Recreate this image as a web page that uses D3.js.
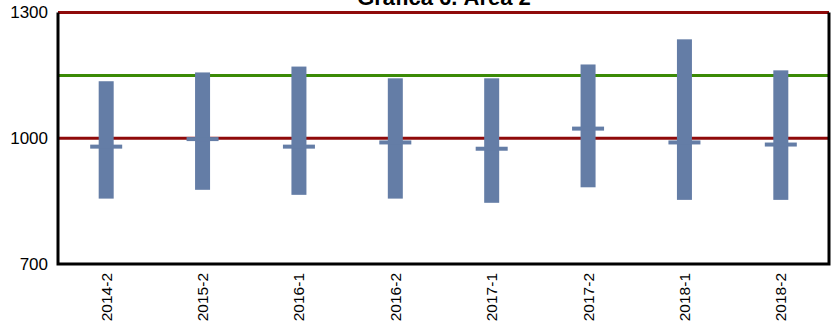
<!DOCTYPE html>
<meta charset="utf-8">
<head>
<title>Gráfica 6. Área 2</title>
<style>
body { margin: 0; background: #fff; }
text { font-family: Arial, "Liberation Sans", sans-serif; fill: #000; }
.bar { fill: #647da6; }
.mean { fill: #647da6; }
</style>
</head>
<body>
<script src="https://d3js.org/d3.v7.min.js"></script>
<script>

// periods, range low/high and mean per period
var periods = ["2014-2", "2015-2", "2016-1", "2016-2", "2017-1", "2017-2", "2018-1", "2018-2"];
var lows  = [856, 877, 865, 856, 846, 883, 853, 853];
var highs = [1136, 1157, 1171, 1143, 1143, 1176, 1236, 1162];
var means = [980, 998, 980, 990, 975, 1023, 990, 985];
var yTicks = [700, 1000, 1300];
var redLines = [1000, 1300];
var greenLine = 1150;

var width = 839,
    height = 329,
    margin = {top: 12.5, right: 10, bottom: 65, left: 58};

var svg = d3.select("body").append("svg")
    .attr("width", width)
    .attr("height", height);

var x = d3.scaleBand()
    .domain(periods)
    .range([margin.left, width - margin.right])
    .paddingInner(0)
    .paddingOuter(0);

var y = d3.scaleLinear()
    .domain([700, 1300])
    .range([height - margin.bottom, margin.top]);

// title (its top runs off the page like the original)
svg.append("text")
    .attr("x", 444)
    .attr("y", 5)
    .attr("text-anchor", "middle")
    .style("font-size", "22px")
    .style("font-weight", "bold")
    .text("Gráfica 6. Área 2");

// reference lines
svg.selectAll(".red")
    .data(redLines)
  .enter().append("line")
    .attr("class", "red")
    .attr("x1", margin.left)
    .attr("x2", width - margin.right)
    .attr("y1", function(d) { return y(d); })
    .attr("y2", function(d) { return y(d); })
    .attr("stroke", "#8f0a0a")
    .attr("stroke-width", 3);

svg.append("line")
    .attr("x1", margin.left)
    .attr("x2", width - margin.right)
    .attr("y1", y(greenLine))
    .attr("y2", y(greenLine))
    .attr("stroke", "#3b8a06")
    .attr("stroke-width", 3);

var bw = 15, mw = 32;

// range bars
svg.selectAll(".bar")
    .data(periods)
  .enter().append("rect")
    .attr("class", "bar")
    .attr("x", function(d) { return x(d) + x.bandwidth() / 2 - bw / 2; })
    .attr("y", function(d, i) { return y(highs[i]); })
    .attr("width", bw)
    .attr("height", function(d, i) { return y(lows[i]) - y(highs[i]); });

// mean markers
svg.selectAll(".mean")
    .data(periods)
  .enter().append("rect")
    .attr("class", "mean")
    .attr("x", function(d) { return x(d) + x.bandwidth() / 2 - mw / 2; })
    .attr("y", function(d, i) { return y(means[i]) - 2; })
    .attr("width", mw)
    .attr("height", 4);

// frame: left, bottom, right in black
var x0 = margin.left, x1 = width - margin.right;
svg.append("path")
    .attr("d", "M" + x0 + "," + y(1300) + "V" + y(700) + "H" + x1 + "V" + y(1300))
    .attr("fill", "none")
    .attr("stroke", "#000")
    .attr("stroke-width", 3);

// y axis labels
var yAxis = d3.axisLeft(y).tickValues(yTicks).tickFormat(d3.format("d")).tickSize(0).tickPadding(10);
var gy = svg.append("g")
    .attr("transform", "translate(" + x0 + ",0)")
    .call(yAxis);
gy.select(".domain").remove();
gy.selectAll("text")
    .style("font-family", "Arial, 'Liberation Sans', sans-serif")
    .style("font-size", "17px")
    .attr("fill", "#000");

// x axis labels
var xAxis = d3.axisBottom(x).tickSize(0).tickPadding(0);
var gx = svg.append("g")
    .attr("transform", "translate(0," + y(700) + ")")
    .call(xAxis);
gx.select(".domain").remove();
gx.selectAll("text")
    .style("font-family", "Arial, 'Liberation Sans', sans-serif")
    .style("font-size", "15.5px")
    .attr("fill", "#000")
    .attr("transform", "rotate(-90)")
    .attr("text-anchor", "end")
    .attr("x", -9)
    .attr("y", 0)
    .attr("dy", "0.35em");

</script>
